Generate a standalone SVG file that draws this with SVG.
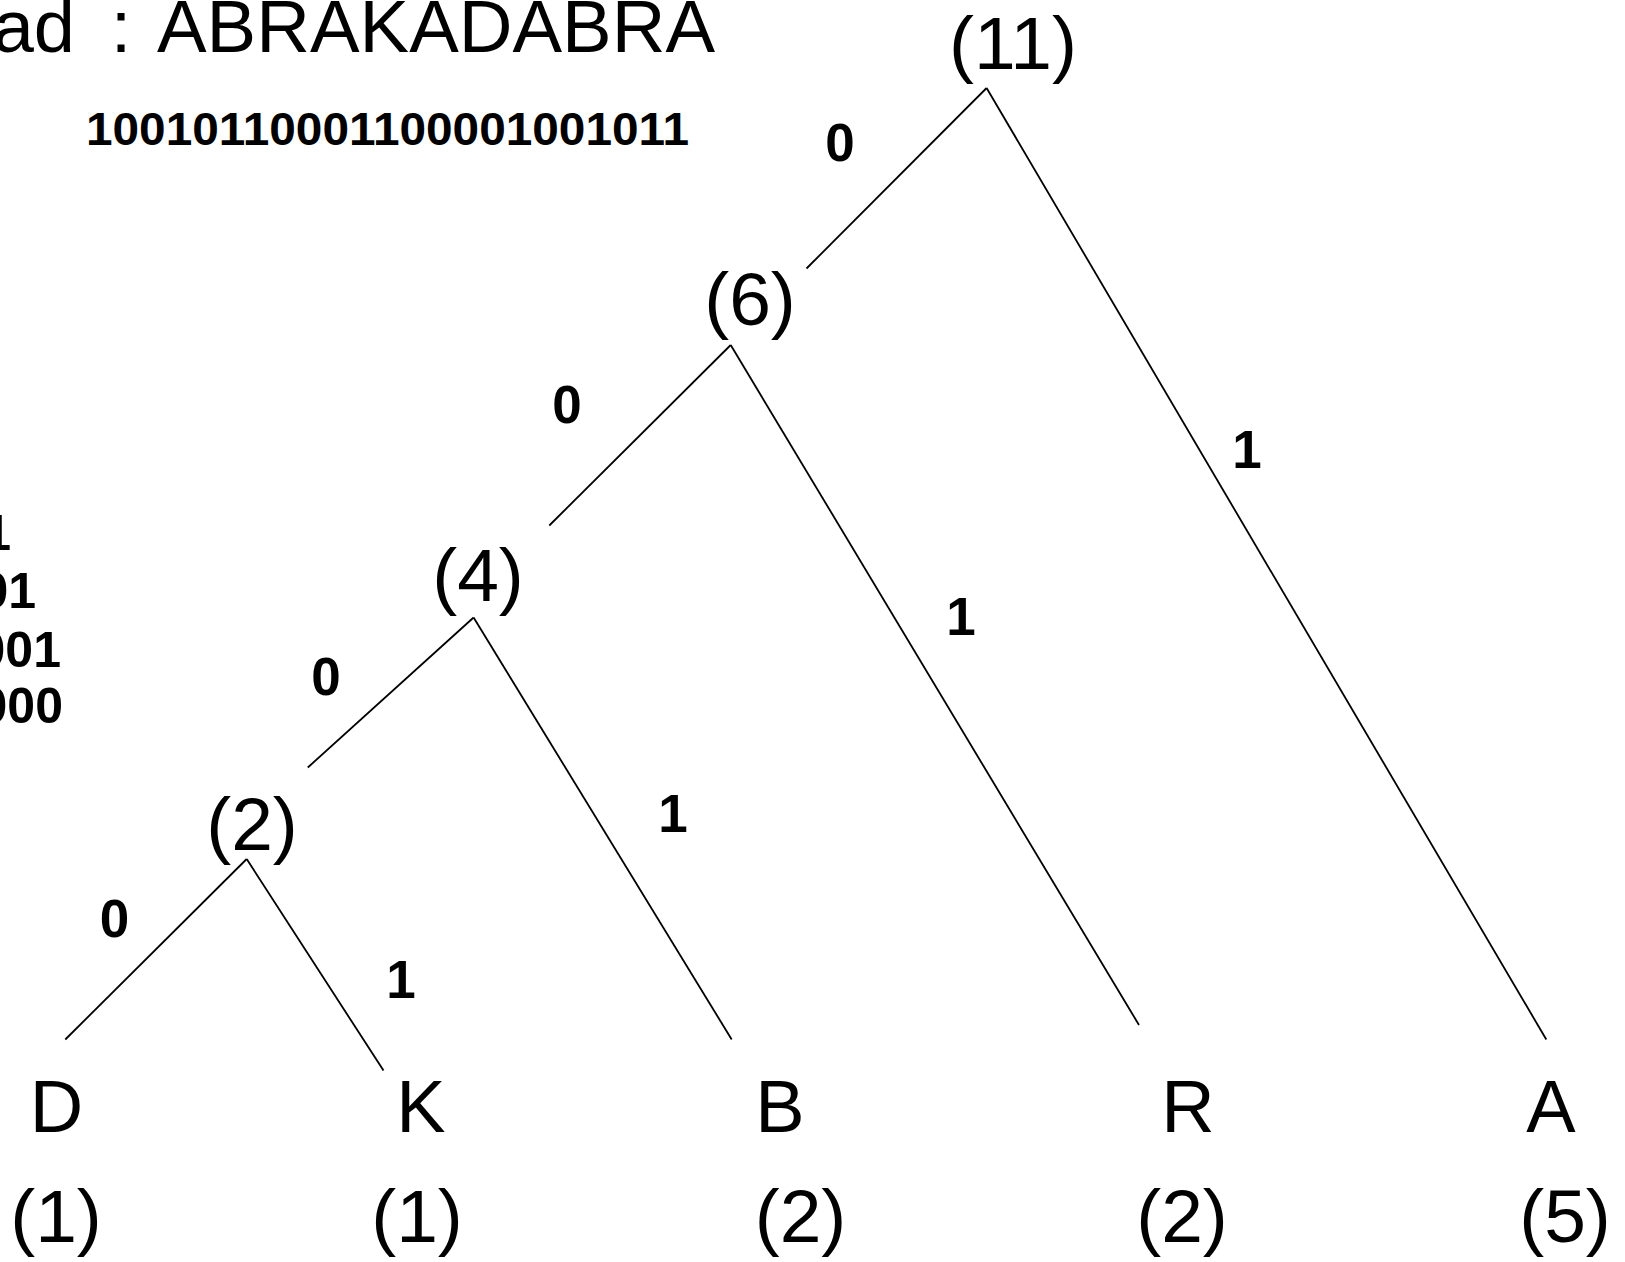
<svg xmlns="http://www.w3.org/2000/svg" width="1625" height="1262" viewBox="0 0 1625 1262">
  <style>
    .big { font-family: "Liberation Sans", Arial, sans-serif; font-size: 74px; fill: #000; }
    .cnt { font-family: "Liberation Sans", Arial, sans-serif; font-size: 75px; fill: #000; text-anchor: middle; }
    .bits { font-family: "Liberation Sans", Arial, sans-serif; font-size: 47px; font-weight: bold; fill: #000; }
    .code { font-family: "Liberation Sans", Arial, sans-serif; font-size: 50px; font-weight: bold; fill: #000; text-anchor: end; }
    .edge { font-family: "Liberation Sans", Arial, sans-serif; font-size: 53px; font-weight: bold; fill: #000; text-anchor: middle; }
    .ln { stroke: #000; stroke-width: 1.8; fill: none; stroke-linecap: butt; }
  </style>
  <rect width="1625" height="1262" fill="#fff"/>

  <!-- word being encoded and its bit string -->
  <g id="title">
    <text class="big" x="75" y="52" text-anchor="end">ad</text>
    <text class="big" x="121" y="52" text-anchor="middle">:</text>
    <text class="big" x="157" y="52" textLength="558" lengthAdjust="spacingAndGlyphs">ABRAKADABRA</text>
  </g>
  <g id="bitstring">
    <text class="bits" x="86" y="145" textLength="603" lengthAdjust="spacingAndGlyphs">10010110001100001001011</text>
  </g>

  <!-- code table (left edge) -->
  <g id="codes">
    <text class="code" x="11" y="550">1</text>
    <text class="code" x="36" y="608">01</text>
    <text class="code" x="61" y="667">001</text>
    <text class="code" x="63" y="723">000</text>
  </g>

  <!-- connectors -->
  <g id="edges">
    <line class="ln" x1="986.6" y1="88" x2="806.5" y2="268.5"/>
    <line class="ln" x1="986.6" y1="88" x2="1546.3" y2="1039.5"/>
    <line class="ln" x1="730.7" y1="345" x2="549.3" y2="525.5"/>
    <line class="ln" x1="730.7" y1="345" x2="1139" y2="1025"/>
    <line class="ln" x1="473.6" y1="617.5" x2="307.8" y2="767.5"/>
    <line class="ln" x1="473.6" y1="617.5" x2="731.7" y2="1039.5"/>
    <line class="ln" x1="246.7" y1="859" x2="65.3" y2="1039.5"/>
    <line class="ln" x1="246.7" y1="859" x2="383.5" y2="1070.6"/>
  </g>

  <!-- edge bit labels -->
  <g id="edge-labels">
    <text class="edge" x="840" y="161">0</text>
    <text class="edge" x="1247" y="468">1</text>
    <text class="edge" x="567" y="423">0</text>
    <text class="edge" x="961" y="635">1</text>
    <text class="edge" x="326" y="695">0</text>
    <text class="edge" x="673" y="832">1</text>
    <text class="edge" x="114.5" y="937">0</text>
    <text class="edge" x="401" y="998">1</text>
  </g>

  <!-- internal nodes -->
  <g id="node-11"><text class="cnt" x="1013" y="69">(11)</text></g>
  <g id="node-6"><text class="cnt" x="750" y="325">(6)</text></g>
  <g id="node-4"><text class="cnt" x="478" y="601">(4)</text></g>
  <g id="node-2"><text class="cnt" x="252" y="850">(2)</text></g>

  <!-- leaves -->
  <g id="leaf-D">
    <text class="big" x="56.5" y="1132" text-anchor="middle">D</text>
    <text class="cnt" x="56" y="1242">(1)</text>
  </g>
  <g id="leaf-K">
    <text class="big" x="421" y="1132" text-anchor="middle">K</text>
    <text class="cnt" x="417" y="1242">(1)</text>
  </g>
  <g id="leaf-B">
    <text class="big" x="780" y="1132" text-anchor="middle">B</text>
    <text class="cnt" x="800.5" y="1242">(2)</text>
  </g>
  <g id="leaf-R">
    <text class="big" x="1188" y="1132" text-anchor="middle">R</text>
    <text class="cnt" x="1182" y="1242">(2)</text>
  </g>
  <g id="leaf-A">
    <text class="big" x="1551" y="1132" text-anchor="middle">A</text>
    <text class="cnt" x="1565" y="1242">(5)</text>
  </g>
</svg>
